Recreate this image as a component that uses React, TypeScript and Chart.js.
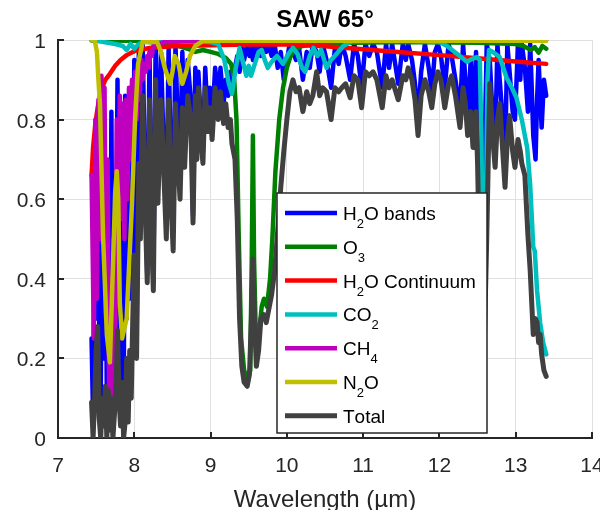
import { useEffect, useRef } from 'react';
import { Chart, registerables } from 'chart.js';

Chart.register(...registerables);

const FONT = '"Liberation Sans", Arial, Helvetica, sans-serif';

const chartTitle = 'SAW 65°';
const xAxisLabel = 'Wavelength (µm)';
const xTickValues = [7, 8, 9, 10, 11, 12, 13, 14];
const xTickLabels = ['7', '8', '9', '10', '11', '12', '13', '14'];
const yTickValues = [0, 0.2, 0.4, 0.6, 0.8, 1];
const yTickLabels = ['0', '0.2', '0.4', '0.6', '0.8', '1'];

// legend labels: "_" marks the next character as a subscript
const seriesNames = ['H_2O bands', 'O_3', 'H_2O Continuum', 'CO_2', 'CH_4', 'N_2O', 'Total'];
const seriesColors = ['#0000ff', '#008000', '#ff0000', '#00bfbf', '#bf00bf', '#bfbf00', '#404040'];

// shared wavelength grid for H2O bands and Total
const gridWl = [
  7.44, 7.46, 7.48, 7.5, 7.52, 7.54, 7.56, 7.58, 7.6, 7.62, 7.64, 7.66, 7.68, 7.7, 7.72, 7.74, 7.76, 7.78, 7.8, 7.82,
  7.84, 7.86, 7.88, 7.9, 7.92, 7.94, 7.96, 7.98, 8.0, 8.03, 8.06, 8.08, 8.11, 8.14, 8.17, 8.2, 8.22, 8.25, 8.28, 8.31,
  8.35, 8.38, 8.42, 8.45, 8.48, 8.51, 8.54, 8.57, 8.6, 8.63, 8.66, 8.7, 8.74, 8.77, 8.8, 8.82, 8.84, 8.87, 8.9, 8.93,
  8.96, 8.99, 9.02, 9.06, 9.1, 9.13, 9.17, 9.2, 9.23, 9.26, 9.28, 9.32, 9.35, 9.38, 9.41, 9.44, 9.48, 9.51, 9.535, 9.555,
  9.575, 9.6, 9.63, 9.66, 9.7, 9.73, 9.76, 9.8, 9.84, 9.88, 9.92, 9.96, 10.0, 10.04, 10.08, 10.12, 10.16, 10.21, 10.26, 10.3,
  10.34, 10.39, 10.43, 10.47, 10.52, 10.58, 10.63, 10.68, 10.72, 10.77, 10.83, 10.88, 10.93, 10.98, 11.03, 11.08, 11.13, 11.18, 11.25, 11.3,
  11.34, 11.38, 11.46, 11.52, 11.56, 11.59, 11.64, 11.68, 11.72, 11.76, 11.81, 11.86, 11.9, 11.94, 11.98, 12.02, 12.07, 12.12, 12.16, 12.21,
  12.27, 12.31, 12.34, 12.37, 12.41, 12.44, 12.48, 12.5, 12.53, 12.56, 12.59, 12.62, 12.66, 12.7, 12.73, 12.76, 12.79, 12.83, 12.86, 12.89,
  12.92, 12.96, 12.99, 13.03, 13.06, 13.08, 13.12, 13.16, 13.19, 13.21, 13.23, 13.26, 13.28, 13.3, 13.32, 13.34, 13.37, 13.4,
];

const totalT = [
  0.09, 0.0, 0.1, 0.22, 0.28, 0.05, 0.0, 0.1, 0.03, 0.13, 0.0, 0.12, 0.02, 0.1, 0.0, 0.06, 0.12, 0.27, 0.1, 0.03,
  0.14, 0.0, 0.04, 0.2, 0.04, 0.22, 0.1, 0.3, 0.46, 0.2, 0.69, 0.5, 0.86, 0.6, 0.39, 0.85, 0.55, 0.37, 0.9, 0.59,
  0.85, 0.7, 0.5, 0.85, 0.6, 0.47, 0.84, 0.7, 0.6, 0.83, 0.68, 0.86, 0.8, 0.54, 0.86, 0.7, 0.88, 0.76, 0.69, 0.88,
  0.77, 0.83, 0.75, 0.88, 0.8, 0.87, 0.79, 0.84, 0.78, 0.8, 0.74, 0.7, 0.55, 0.3, 0.18, 0.14, 0.13, 0.16, 0.3, 0.45,
  0.3, 0.18, 0.22, 0.3, 0.31, 0.29, 0.32, 0.36, 0.42, 0.52, 0.63, 0.72, 0.8, 0.87, 0.9, 0.87, 0.88, 0.82, 0.87, 0.84,
  0.86, 0.92, 0.86, 0.88, 0.87, 0.8, 0.88, 0.87, 0.88, 0.89, 0.855, 0.91, 0.9, 0.83, 0.92, 0.91, 0.92, 0.9, 0.83, 0.91,
  0.88, 0.9, 0.85, 0.91, 0.9, 0.93, 0.9, 0.85, 0.76, 0.86, 0.9, 0.87, 0.83, 0.89, 0.92, 0.9, 0.83, 0.89, 0.91, 0.86,
  0.78, 0.88, 0.84, 0.76, 0.82, 0.73, 0.82, 0.69, 0.4, 0.2, 0.25, 0.5, 0.89, 0.75, 0.68, 0.8, 0.84, 0.72, 0.63, 0.75,
  0.81, 0.72, 0.68, 0.75, 0.72, 0.69, 0.66, 0.51, 0.42, 0.34, 0.26, 0.3, 0.29, 0.24, 0.26, 0.21, 0.17, 0.155,
];

const h2oBandsT = [
  0.25, 0.05, 0.6, 0.3, 0.75, 0.3, 0.05, 0.85, 0.2, 0.7, 0.1, 0.5, 0.15, 0.82, 0.1, 0.45, 0.35, 0.9, 0.3, 0.08,
  0.6, 0.05, 0.86, 0.3, 0.75, 0.35, 0.8, 0.45, 0.95, 0.22, 0.98, 0.6, 0.99, 0.65, 0.41, 0.97, 0.6, 0.39, 0.99, 0.63,
  0.97, 0.76, 0.56, 0.98, 0.68, 0.53, 0.99, 0.78, 0.67, 0.97, 0.76, 0.95, 0.85, 0.56, 0.93, 0.73, 0.92, 0.8, 0.72, 0.93,
  0.81, 0.88, 0.79, 0.93, 0.85, 0.93, 0.84, 0.9, 0.86, 0.92, 0.87, 0.93, 0.96, 0.92, 0.98, 0.95, 0.99, 0.96, 0.98, 0.95,
  0.99, 0.97, 0.99, 0.96, 0.99, 0.97, 0.99, 0.96, 0.99, 0.93, 0.97, 0.9, 0.95, 0.99, 0.97, 0.95, 0.98, 0.9, 0.97, 0.93,
  0.99, 0.97, 0.92, 0.99, 0.95, 0.88, 0.98, 0.94, 0.99, 0.96, 0.9, 0.99, 0.96, 0.88, 0.99, 0.96, 0.99, 0.97, 0.88, 0.99,
  0.93, 0.99, 0.89, 0.99, 0.95, 0.99, 0.95, 0.89, 0.8, 0.92, 0.99, 0.93, 0.87, 0.97, 0.99, 0.96, 0.88, 0.99, 0.96, 0.9,
  0.82, 0.99, 0.9, 0.8, 0.95, 0.78, 0.97, 0.75, 0.55, 0.5, 0.7, 0.99, 0.95, 0.8, 0.72, 0.99, 0.9, 0.8, 0.7, 0.99,
  0.92, 0.82, 0.8, 0.99, 0.9, 0.99, 0.93, 0.82, 0.99, 0.88, 0.76, 0.7, 0.85, 0.95, 0.86, 0.78, 0.9, 0.86,
];

const o3Wl = [
  7.44, 8.0, 8.5, 8.7, 8.8, 8.9, 9.0, 9.1, 9.2, 9.27, 9.31, 9.34, 9.37, 9.4, 9.44, 9.48, 9.52, 9.54, 9.555, 9.57,
  9.6, 9.64, 9.67, 9.7, 9.74, 9.78, 9.81, 9.85, 9.9, 9.95, 10.0, 10.05, 10.1, 10.2, 10.5, 11.5, 12.5, 13.0, 13.1, 13.2,
  13.25, 13.3, 13.35, 13.4,
];
const o3T = [
  0.999, 0.998, 0.99, 0.978, 0.97, 0.975, 0.97, 0.965, 0.955, 0.94, 0.9, 0.8, 0.5, 0.25, 0.17, 0.15, 0.17, 0.45, 0.76, 0.45,
  0.2, 0.27, 0.33, 0.35, 0.33, 0.4, 0.5, 0.67, 0.8, 0.88, 0.93, 0.96, 0.975, 0.985, 0.992, 0.995, 0.993, 0.99, 0.985, 0.975,
  0.982, 0.968, 0.985, 0.978,
];

const contWl = [7.44, 7.46, 7.49, 7.52, 7.56, 7.62, 7.68, 7.75, 7.82, 7.9, 8.0, 8.2, 8.5, 9.0, 9.5, 10.0, 10.5, 11.0, 11.5, 12.0, 12.5, 13.0, 13.4];
const contT = [0.66, 0.73, 0.79, 0.83, 0.87, 0.9, 0.915, 0.935, 0.95, 0.962, 0.972, 0.98, 0.984, 0.987, 0.989, 0.989, 0.984, 0.977, 0.969, 0.962, 0.954, 0.946, 0.94];

const co2Wl = [
  7.44, 7.6, 7.75, 7.85, 7.9, 7.95, 8.0, 8.05, 8.1, 8.5, 9.0, 9.1, 9.18, 9.24, 9.28, 9.33, 9.38, 9.43, 9.47, 9.5,
  9.53, 9.58, 9.63, 9.67, 9.71, 9.75, 9.8, 9.87, 9.95, 10.02, 10.08, 10.14, 10.2, 10.24, 10.3, 10.35, 10.4, 10.45, 10.52, 10.58,
  10.65, 10.74, 10.85, 11.5, 12.0, 12.1, 12.2, 12.3, 12.36, 12.42, 12.49, 12.53, 12.55, 12.57, 12.59, 12.61, 12.63, 12.65, 12.7, 12.79,
  12.88, 12.95, 13.01, 13.08, 13.15, 13.19, 13.23, 13.25, 13.28, 13.32, 13.36, 13.4,
];
const co2T = [
  1.0, 0.995, 0.99, 0.985, 0.975, 0.99, 0.978, 0.988, 0.995, 0.998, 0.995, 0.99, 0.95, 0.89, 0.865, 0.93, 0.98, 0.94, 0.91, 0.935,
  0.91, 0.94, 0.97, 0.975, 0.95, 0.93, 0.945, 0.96, 0.94, 0.965, 0.98, 0.965, 0.93, 0.92, 0.96, 0.98, 0.96, 0.975, 0.93, 0.95,
  0.965, 0.985, 0.997, 0.998, 0.995, 0.985, 0.97, 0.955, 0.945, 0.952, 0.957, 0.95, 0.75, 0.4, 0.35, 0.6, 0.9, 0.975, 0.97, 0.957,
  0.905, 0.88, 0.855, 0.8, 0.73, 0.635, 0.48, 0.47, 0.37, 0.29, 0.24, 0.21,
];

const ch4Wl = [
  7.44, 7.47, 7.49, 7.51, 7.53, 7.55, 7.57, 7.59, 7.61, 7.63, 7.65, 7.67, 7.69, 7.71, 7.73, 7.75, 7.77, 7.79, 7.81, 7.83,
  7.85, 7.87, 7.89, 7.91, 7.93, 7.95, 7.97, 7.99, 8.01, 8.03, 8.05, 8.07, 8.09, 8.11, 8.13, 8.15, 8.17, 8.19, 8.21, 8.23,
  8.25, 8.3, 8.4, 9.0, 13.4,
];
const ch4T = [
  0.66, 0.25, 0.8, 0.35, 0.85, 0.5, 0.91, 0.6, 0.88, 0.3, 0.7, 0.1, 0.4, 0.05, 0.5, 0.2, 0.8, 0.45, 0.86, 0.55,
  0.84, 0.5, 0.85, 0.6, 0.88, 0.7, 0.9, 0.75, 0.92, 0.8, 0.93, 0.85, 0.95, 0.9, 0.94, 0.92, 0.96, 0.93, 0.97, 0.96,
  0.985, 0.99, 0.995, 0.998, 1.0,
];

const n2oWl = [
  7.44, 7.48, 7.51, 7.53, 7.55, 7.59, 7.64, 7.68, 7.72, 7.75, 7.77, 7.79, 7.81, 7.84, 7.9, 7.97, 8.01, 8.05, 8.11, 8.3,
  8.35, 8.4, 8.47, 8.5, 8.53, 8.58, 8.63, 8.68, 8.73, 8.8, 8.9, 13.4,
];
const n2oT = [
  1.0, 1.0, 0.97, 0.9, 0.84, 0.51, 0.26, 0.19, 0.43, 0.62, 0.67, 0.6, 0.34, 0.25, 0.3, 0.59, 0.8, 0.94, 0.995, 0.995,
  0.97, 0.93, 0.89, 0.92, 0.96, 0.94, 0.89, 0.92, 0.96, 0.985, 0.998, 0.998,
];

const seriesX = [gridWl, o3Wl, contWl, co2Wl, ch4Wl, n2oWl, gridWl];
const seriesY = [h2oBandsT, o3T, contT, co2T, ch4T, n2oT, totalT];

function zip(xs: number[], ys: number[]) {
  return xs.map((x, i) => ({ x, y: ys[i] }));
}

function drawRichText(ctx: CanvasRenderingContext2D, text: string, x: number, y: number, size: number, subSize: number) {
  let cx = x;
  for (let i = 0; i < text.length; i++) {
    const ch = text[i];
    if (ch === '_' && i + 1 < text.length) {
      const s = text[i + 1];
      ctx.font = `${subSize}px ${FONT}`;
      ctx.fillText(s, cx, y + 8);
      cx += ctx.measureText(s).width;
      i++;
    } else {
      ctx.font = `${size}px ${FONT}`;
      ctx.fillText(ch, cx, y);
      cx += ctx.measureText(ch).width;
    }
  }
}

const decorations = {
  id: 'decorations',
  beforeDatasetsDraw(chart: any) {
    const { ctx, chartArea: ca, scales } = chart;
    ctx.save();
    ctx.strokeStyle = '#262626';
    ctx.lineWidth = 2;
    for (const v of yTickValues) {
      const py = Math.round(scales.y.getPixelForValue(v));
      ctx.beginPath();
      ctx.moveTo(ca.left, py);
      ctx.lineTo(ca.left + 6, py);
      ctx.stroke();
    }
    for (const v of xTickValues) {
      const px = Math.round(scales.x.getPixelForValue(v));
      ctx.beginPath();
      ctx.moveTo(px, ca.bottom);
      ctx.lineTo(px, ca.bottom - 6);
      ctx.stroke();
    }
    ctx.restore();
  },
  afterDatasetsDraw(chart: any) {
    const { ctx, chartArea: ca } = chart;
    ctx.save();
    const bx = ca.left + 219;
    const by = ca.top + 153;
    const bw = 210;
    const bh = 240;
    ctx.fillStyle = '#ffffff';
    ctx.fillRect(bx, by, bw, bh);
    ctx.strokeStyle = '#262626';
    ctx.lineWidth = 1.5;
    ctx.strokeRect(bx, by, bw, bh);
    ctx.textAlign = 'left';
    ctx.textBaseline = 'alphabetic';
    seriesNames.forEach((name, i) => {
      const ly = by + 20 + i * 33.8;
      ctx.strokeStyle = seriesColors[i];
      ctx.lineWidth = i === 6 ? 5 : 4.5;
      ctx.lineCap = 'butt';
      ctx.beginPath();
      ctx.moveTo(bx + 8, ly);
      ctx.lineTo(bx + 60, ly);
      ctx.stroke();
      ctx.fillStyle = '#000000';
      drawRichText(ctx, name, bx + 66, ly + 7, 19, 13);
    });
    ctx.restore();
  },
  afterDraw(chart: any) {
    const { ctx, chartArea: ca, scales } = chart;
    ctx.save();
    ctx.fillStyle = '#262626';
    ctx.font = `21px ${FONT}`;
    ctx.textBaseline = 'alphabetic';
    ctx.textAlign = 'right';
    yTickValues.forEach((v, i) => {
      ctx.fillText(yTickLabels[i], ca.left - 12, scales.y.getPixelForValue(v) + 8);
    });
    ctx.textAlign = 'center';
    xTickValues.forEach((v, i) => {
      ctx.fillText(xTickLabels[i], scales.x.getPixelForValue(v), ca.bottom + 34);
    });
    const cx = (ca.left + ca.right) / 2;
    ctx.font = `24px ${FONT}`;
    ctx.fillText(xAxisLabel, cx, ca.bottom + 69);
    ctx.fillStyle = '#000000';
    ctx.font = `bold 24px ${FONT}`;
    ctx.fillText(chartTitle, cx, ca.top - 13);
    ctx.restore();
  },
};

export default function App() {
  const ref = useRef<HTMLCanvasElement>(null);
  useEffect(() => {
    document.body.style.margin = '0';
    const orders = [7, 6, 5, 4, 3, 2, 1];
    const chart = new Chart(ref.current as HTMLCanvasElement, {
      type: 'line',
      data: {
        datasets: seriesNames.map((name, i) => ({
          label: name,
          data: zip(seriesX[i], seriesY[i]),
          borderColor: seriesColors[i],
          backgroundColor: seriesColors[i],
          borderWidth: i === 6 ? 5 : 4.5,
          pointRadius: 0,
          tension: 0,
          fill: false,
          borderJoinStyle: 'round',
          borderCapStyle: 'round',
          order: orders[i],
        })),
      },
      options: {
        animation: false,
        responsive: false,
        devicePixelRatio: 1,
        layout: { padding: { left: 58, right: 8, top: 40, bottom: 72 } },
        plugins: { legend: { display: false }, tooltip: { enabled: false }, title: { display: false } },
        scales: {
          x: {
            type: 'linear',
            min: 7,
            max: 14,
            ticks: { display: false, stepSize: 1 },
            grid: { color: '#e0e0e0', lineWidth: 1, drawTicks: false },
            border: { display: true, color: '#262626', width: 2 },
          },
          y: {
            type: 'linear',
            min: 0,
            max: 1,
            ticks: { display: false, stepSize: 0.2 },
            grid: { color: '#e0e0e0', lineWidth: 1, drawTicks: false },
            border: { display: true, color: '#262626', width: 2 },
          },
        },
      },
      plugins: [decorations],
    } as any);
    return () => chart.destroy();
  }, []);
  return (
    <div style={{ width: 600, height: 510 }}>
      <canvas ref={ref} width={600} height={510} style={{ display: 'block' }} />
    </div>
  );
}
